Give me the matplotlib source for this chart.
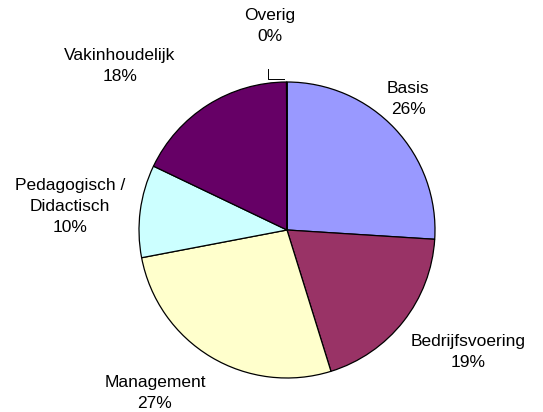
import numpy as np
import matplotlib.pyplot as plt

categories = ['Basis', 'Bedrijfsvoering', 'Management', 'Pedagogisch /\nDidactisch',
              'Vakinhoudelijk', 'Overig']
values = [26.0, 19.2, 26.8, 10.1, 17.85, 0.05]
pct_labels = ['26%', '19%', '27%', '10%', '18%', '0%']
colors = ['#9999FF', '#993366', '#FFFFCC', '#CCFFFF', '#660066', '#FF8080']

W, H = 543, 412
fig = plt.figure(figsize=(W / 100, H / 100), dpi=100)
ax = fig.add_axes([0, 0, 1, 1])

cx, cy, r = 287, H - 230, 148
wedges, _ = ax.pie(values, colors=colors, startangle=90, counterclock=False,
                   center=(cx, cy), radius=r, frame=True,
                   wedgeprops=dict(edgecolor='black', linewidth=0.9))
ax.set_xlim(0, W)
ax.set_ylim(0, H)
ax.axis('off')

# label anchors (pixel positions, top-left origin)
label_pos = [(408, 99), (468, 352), (155, 393), (70, 206), (120, 66), (270, 26)]
font = dict(family='Liberation Sans', fontsize=12.5, color='black',
            ha='center', va='center', linespacing=1.5)
for cat, pct, (lx, ly) in zip(categories, pct_labels, label_pos):
    ax.text(lx, H - ly, cat + '\n' + pct, **font)

# leader line for the tiny slice
w = wedges[-1]
mid = np.deg2rad((w.theta1 + w.theta2) / 2)
ex = cx + r * np.cos(mid)
ax.plot([ex - 3, 268, 268], [H - 79, H - 79, H - 69], color='black', lw=0.7)

fig.savefig('out.png', dpi=100)
